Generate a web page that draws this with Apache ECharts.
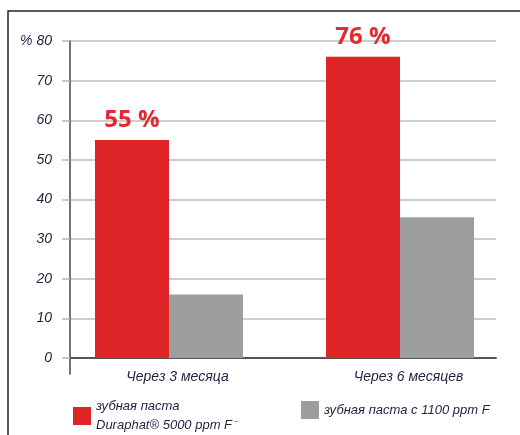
<!DOCTYPE html>
<html>
<head>
<meta charset="utf-8">
<script src="https://cdn.jsdelivr.net/npm/echarts@6/dist/echarts.min.js"></script>
<style>
  html, body { margin: 0; padding: 0; background: #fff; }
  #chart { width: 520px; height: 435px; }
</style>
</head>
<body>
<div id="chart"></div>
<script>
// Share of patients with improvement, by period
const periods = ['Через 3 месяца', 'Через 6 месяцев'];
const seriesNames = ['зубная паста\nDuraphat® 5000 ppm F⁻', 'зубная паста с 1100 ppm F'];
const duraphat = [55, 76];
const regular = [16, 35.5];
const yTicks = [0, 10, 20, 30, 40, 50, 60, 70, 80];

const RED = '#de2427';
const GRAY = '#9c9e9e';
const TEXT = '#1e2140';
const FONT = '"Liberation Sans Narrow", "Liberation Sans", sans-serif';

const chart = echarts.init(document.getElementById('chart'), null, { renderer: 'canvas' });

chart.setOption({
  animation: false,
  backgroundColor: '#fff',
  graphic: [{
    type: 'rect',
    shape: { x: 8, y: 11, width: 520, height: 430 },
    style: { fill: 'none', stroke: '#222', lineWidth: 1.5 },
    silent: true
  }],
  grid: [
    // long vertical axis line reaching below zero
    { left: 70, right: 24, top: 41, height: 333 },
    // value grid with gridlines and labels
    { left: 70, right: 24, top: 41, bottom: 77 },
    // bars
    { left: 53.5, right: 4.5, top: 41, bottom: 77 }
  ],
  xAxis: [
    { gridIndex: 0, type: 'category', data: periods, show: false },
    {
      gridIndex: 1, type: 'category', data: periods,
      axisLine: { lineStyle: { color: '#555', width: 2 } },
      axisTick: { show: false }, axisLabel: { show: false }
    },
    {
      gridIndex: 2, type: 'category', data: periods,
      axisLine: { show: false }, axisTick: { show: false },
      axisLabel: {
        margin: 12, padding: [0, 0, 0, 17],
        fontFamily: FONT, fontStyle: 'italic', fontSize: 14, color: TEXT
      },
      z: 5
    }
  ],
  yAxis: [
    {
      gridIndex: 0, type: 'value', min: -4, max: 80,
      axisLine: { show: true, lineStyle: { color: '#444', width: 1.5 } },
      axisTick: { show: false }, axisLabel: { show: false }, splitLine: { show: false }
    },
    {
      gridIndex: 1, type: 'value', min: yTicks[0], max: yTicks[yTicks.length - 1], interval: 10,
      axisLine: { show: false },
      axisTick: { show: true, length: 8, lineStyle: { color: '#b8b8b8', width: 1.5 } },
      splitLine: { lineStyle: { color: '#bdbdbd', width: 1.5 } },
      axisLabel: {
        margin: 18, fontFamily: FONT, fontStyle: 'italic', fontSize: 14, color: TEXT,
        formatter: v => v === 80 ? '% 80' : String(v)
      }
    },
    { gridIndex: 2, type: 'value', min: 0, max: 80, show: false }
  ],
  legend: [
    {
      data: [seriesNames[0]], left: 68, top: 392, orient: 'horizontal',
      icon: 'rect', itemWidth: 18, itemHeight: 18, itemGap: 8,
      textStyle: { fontFamily: FONT, fontStyle: 'italic', fontSize: 13, color: TEXT, lineHeight: 19 }
    },
    {
      data: [seriesNames[1]], left: 296, top: 396, orient: 'horizontal',
      icon: 'rect', itemWidth: 18, itemHeight: 18,
      textStyle: { fontFamily: FONT, fontStyle: 'italic', fontSize: 13, color: TEXT }
    }
  ],
  series: [
    {
      name: seriesNames[0], type: 'bar', xAxisIndex: 2, yAxisIndex: 2,
      data: duraphat, barWidth: 74, barGap: '0%',
      itemStyle: { color: RED },
      label: {
        show: true, position: 'top', distance: 8,
        formatter: p => p.value + ' %',
        fontFamily: '"Open Sans", sans-serif', fontWeight: 'bold', fontSize: 24, color: '#e52a2e'
      }
    },
    {
      name: seriesNames[1], type: 'bar', xAxisIndex: 2, yAxisIndex: 2,
      data: regular, barWidth: 74, barGap: '0%',
      itemStyle: { color: GRAY }
    }
  ]
});
</script>
</body>
</html>
